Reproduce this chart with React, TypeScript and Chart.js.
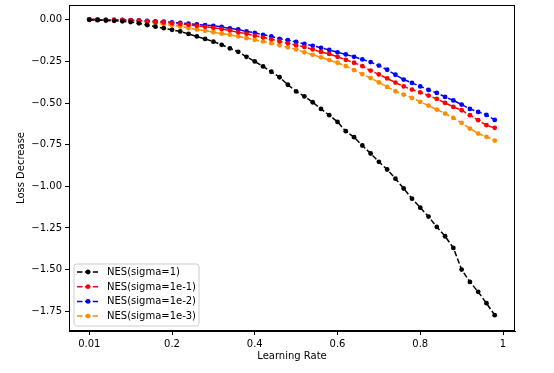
import React, { useEffect, useRef } from 'react';
import { Chart, registerables } from 'chart.js';
Chart.register(...registerables);

// x positions are the run index (50 learning rates); tick labels as shown
const xTickPositions = [0, 10, 20, 30, 40, 50];
const xTickLabels = ['0.01', '0.2', '0.4', '0.6', '0.8', '1'];
const yTicks = [0, -0.25, -0.5, -0.75, -1, -1.25, -1.5, -1.75];

const seriesNames = ['NES(sigma=1)', 'NES(sigma=1e-1)', 'NES(sigma=1e-2)', 'NES(sigma=1e-3)'];
const seriesColors = ['#000000', '#ff0000', '#0000ff', '#ff8c00'];

const sigma1 = [
  0.0, -0.002, -0.004, -0.006, -0.009, -0.013, -0.021, -0.031, -0.041, -0.05,
  -0.06, -0.07, -0.085, -0.1, -0.115, -0.131, -0.15, -0.172, -0.192, -0.222,
  -0.25, -0.28, -0.312, -0.345, -0.39, -0.43, -0.46, -0.495, -0.535, -0.573,
  -0.613, -0.669, -0.705, -0.755, -0.803, -0.853, -0.899, -0.954, -1.013, -1.074,
  -1.128, -1.182, -1.244, -1.3, -1.37, -1.5, -1.574, -1.634, -1.702, -1.774,
];
const sigma1e1 = [
  0.002, 0.001, 0.0, -0.001, -0.002, -0.003, -0.005, -0.008, -0.012, -0.016,
  -0.02, -0.025, -0.03, -0.036, -0.042, -0.048, -0.055, -0.064, -0.075, -0.084,
  -0.095, -0.105, -0.116, -0.13, -0.141, -0.152, -0.163, -0.178, -0.193, -0.205,
  -0.222, -0.24, -0.258, -0.278, -0.305, -0.328, -0.352, -0.377, -0.4, -0.419,
  -0.436, -0.455, -0.475, -0.499, -0.523, -0.543, -0.573, -0.603, -0.633, -0.649,
];
const sigma1e2 = [
  0.002, 0.001, 0.0, 0.0, -0.001, -0.002, -0.004, -0.006, -0.009, -0.011,
  -0.015, -0.019, -0.023, -0.028, -0.032, -0.036, -0.043, -0.052, -0.058, -0.07,
  -0.078, -0.09, -0.099, -0.114, -0.122, -0.133, -0.145, -0.156, -0.168, -0.181,
  -0.195, -0.208, -0.222, -0.238, -0.254, -0.275, -0.3, -0.33, -0.359, -0.379,
  -0.4, -0.421, -0.439, -0.463, -0.484, -0.509, -0.535, -0.553, -0.571, -0.601,
];
const sigma1e3 = [
  0.003, 0.001, 0.0, -0.001, -0.002, -0.004, -0.009, -0.014, -0.02, -0.026,
  -0.033, -0.04, -0.049, -0.058, -0.066, -0.074, -0.083, -0.09, -0.1, -0.11,
  -0.12, -0.13, -0.14, -0.153, -0.165, -0.178, -0.195, -0.21, -0.225, -0.242,
  -0.258, -0.278, -0.302, -0.326, -0.35, -0.376, -0.403, -0.429, -0.449, -0.469,
  -0.493, -0.515, -0.539, -0.563, -0.589, -0.619, -0.653, -0.683, -0.703, -0.725,
];
const allSeries = [sigma1, sigma1e1, sigma1e2, sigma1e3];

const FONT = "'DejaVu Sans', 'Liberation Sans', sans-serif";
const DASH = [5.5, 2.4];

export default function App() {
  const ref = useRef<HTMLCanvasElement>(null);

  useEffect(() => {
    if (!ref.current) return;

    const framePlugin = {
      id: 'frameAndLegend',
      afterDatasetsDraw(chart: any) {
        const { ctx, chartArea: a } = chart;
        ctx.save();
        // full frame
        ctx.strokeStyle = '#000';
        ctx.lineWidth = 1;
        ctx.setLineDash([]);
        ctx.strokeRect(Math.round(a.left) + 0.5, Math.round(a.top) + 0.5,
          Math.round(a.right - a.left) - 1, Math.round(a.bottom - a.top) - 1);

        // legend box (lower left)
        const bx = a.left + 5, bw = 125, bh = 62;
        const by = a.bottom - 5 - bh;
        ctx.fillStyle = 'rgba(255,255,255,0.8)';
        ctx.strokeStyle = '#cccccc';
        ctx.beginPath();
        const r = 2.5;
        ctx.moveTo(bx + r, by);
        ctx.lineTo(bx + bw - r, by);
        ctx.arcTo(bx + bw, by, bx + bw, by + r, r);
        ctx.lineTo(bx + bw, by + bh - r);
        ctx.arcTo(bx + bw, by + bh, bx + bw - r, by + bh, r);
        ctx.lineTo(bx + r, by + bh);
        ctx.arcTo(bx, by + bh, bx, by + bh - r, r);
        ctx.lineTo(bx, by + r);
        ctx.arcTo(bx, by, bx + r, by, r);
        ctx.closePath();
        ctx.fill();
        ctx.stroke();

        ctx.font = `10px ${FONT}`;
        ctx.textBaseline = 'middle';
        ctx.textAlign = 'left';
        seriesNames.forEach((name, k) => {
          const cy = by + 8 + k * 14.7;
          ctx.strokeStyle = seriesColors[k];
          ctx.lineWidth = 1.5;
          ctx.setLineDash(DASH);
          ctx.beginPath();
          ctx.moveTo(bx + 3, cy);
          ctx.lineTo(bx + 24, cy);
          ctx.stroke();
          ctx.setLineDash([]);
          ctx.fillStyle = seriesColors[k];
          ctx.beginPath();
          ctx.arc(bx + 14, cy, 2.4, 0, Math.PI * 2);
          ctx.fill();
          ctx.fillStyle = '#000';
          ctx.fillText(name, bx + 33, cy + 0.5);
        });
        ctx.restore();
      },
    };

    const datasets = allSeries.map((vals, k) => ({
      label: seriesNames[k],
      data: vals.map((v, i) => ({ x: i, y: v })),
      borderColor: seriesColors[k],
      backgroundColor: seriesColors[k],
      pointBackgroundColor: seriesColors[k],
      pointBorderColor: seriesColors[k],
      pointBorderWidth: 0,
      pointRadius: 2.4,
      borderWidth: 1.5,
      borderDash: DASH,
      tension: 0,
      fill: false,
    }));

    const chart = new Chart(ref.current, {
      type: 'line',
      data: { datasets },
      plugins: [framePlugin],
      options: {
        animation: false,
        responsive: false,
        maintainAspectRatio: false,
        layout: { padding: { left: 0, right: 39, top: 5, bottom: 0 } },
        plugins: { legend: { display: false }, tooltip: { enabled: false } },
        scales: {
          x: {
            type: 'linear',
            min: -2.45,
            max: 51.45,
            afterBuildTicks: (s: any) => { s.ticks = xTickPositions.map((v) => ({ value: v })); },
            afterFit: (s: any) => { s.height = 42; s.paddingLeft = 0; s.paddingRight = 0; },
            ticks: {
              callback: (v: any) => {
                const i = xTickPositions.indexOf(Number(v));
                return i >= 0 ? xTickLabels[i] : '';
              },
              color: '#000',
              font: { family: FONT, size: 10 },
              padding: 3,
              maxRotation: 0,
              autoSkip: false,
            },
            grid: { drawOnChartArea: false, drawTicks: true, tickLength: 4, color: '#000' },
            border: { display: true, color: '#000' },
            title: {
              display: true,
              text: 'Learning Rate',
              color: '#000',
              font: { family: FONT, size: 10 },
              padding: { top: 0, bottom: 11 },
            },
          },
          y: {
            type: 'linear',
            min: -1.869,
            max: 0.089,
            afterBuildTicks: (s: any) => { s.ticks = yTicks.map((v) => ({ value: v })); },
            afterFit: (s: any) => { s.width = 69; s.paddingTop = 0; s.paddingBottom = 0; },
            ticks: {
              callback: (v: any) => Number(v).toFixed(2).replace('-', '\u2212'),
              color: '#000',
              font: { family: FONT, size: 10 },
              padding: 3,
              autoSkip: false,
            },
            grid: { drawOnChartArea: false, drawTicks: true, tickLength: 4, color: '#000' },
            border: { display: true, color: '#000' },
            title: {
              display: true,
              text: 'Loss Decrease',
              color: '#000',
              font: { family: FONT, size: 10 },
              padding: { top: 15, bottom: 0 },
            },
          },
        },
      },
    } as any);

    return () => chart.destroy();
  }, []);

  return (
    <div style={{ position: 'fixed', left: 0, top: 0, width: 554, height: 373, background: '#fff' }}>
      <canvas ref={ref} width={554} height={373} style={{ display: 'block', width: 554, height: 373 }} />
    </div>
  );
}
